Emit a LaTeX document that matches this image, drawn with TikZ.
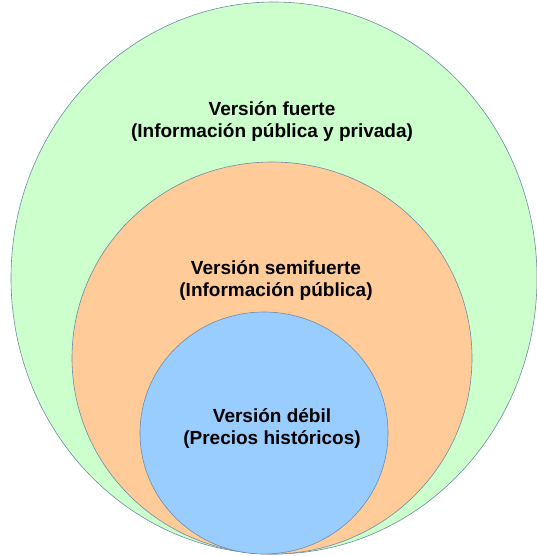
\documentclass[tikz,border=0pt]{standalone}
\usepackage{fontspec}
\setmainfont{Liberation Sans}
\usepackage{tikz}
\definecolor{fuerte}{HTML}{CCFFCC}
\definecolor{semi}{HTML}{FFCC99}
\definecolor{debil}{HTML}{99CCFF}
\definecolor{borde}{HTML}{6E8CA8}
\tikzset{
  zona/.style={draw=borde, line width=0.6},
  rotulo/.style={font=\bfseries\fontsize{19}{22}\selectfont, align=center, text=black}
}

\begin{document}
\begin{tikzpicture}[x=1pt, y=-1pt]

  \useasboundingbox (0, 0) rectangle (536, 556);

  \draw[zona, fill=fuerte] (274, 278) ellipse [x radius=263, y radius=276];
  \draw[zona, fill=semi] (272, 358) ellipse [x radius=200, y radius=196];
  \draw[zona, fill=debil] (264, 433) ellipse [x radius=124, y radius=121];

  \node[rotulo] (fuerte) at (272, 122) {Versión fuerte\\(Información pública y privada)};
  \node[rotulo] (semifuerte) at (276, 281) {Versión semifuerte\\(Información pública)};
  \node[rotulo] (debil) at (272, 428) {Versión débil\\(Precios históricos)};

\end{tikzpicture}
\end{document}
